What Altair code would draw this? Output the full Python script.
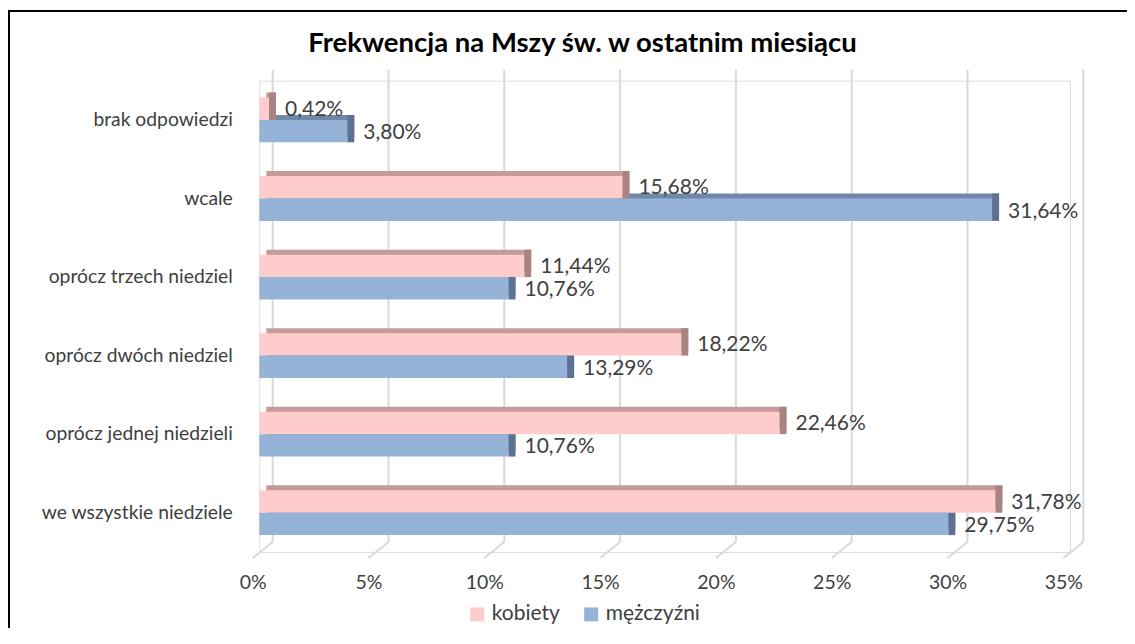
import altair as alt
import pandas as pd

categories = ["brak odpowiedzi", "wcale", "oprócz trzech niedziel",
              "oprócz dwóch niedziel", "oprócz jednej niedzieli", "we wszystkie niedziele"]
series = ["kobiety", "mężczyźni"]
kobiety = [0.42, 15.68, 11.44, 18.22, 22.46, 31.78]
mezczyzni = [3.80, 31.64, 10.76, 13.29, 10.76, 29.75]
ticks = [0, 5, 10, 15, 20, 25, 30, 35]

front_colors = ["#FFCCCC", "#95B3D7"]
top_colors = ["#C49B99", "#6F88A9"]
side_colors = ["#A98381", "#5C7290"]

FONT = "Lato"
W, H = 810.6, 471.33
BAR = 22.4
DX, DY = 7, 5

rows = []
for c, k, m in zip(categories, kobiety, mezczyzni):
    rows.append({"kat": c, "plec": series[0], "v": k})
    rows.append({"kat": c, "plec": series[1], "v": m})
df = pd.DataFrame(rows)
tick_df = pd.DataFrame({"t": ticks})

xscale = alt.Scale(domain=[0, 35], nice=False, zero=True)
yscale = alt.Scale(domain=categories, paddingInner=0, paddingOuter=0)

x_axis = alt.Axis(values=ticks, labelExpr="datum.value + '%'", grid=False, domain=False,
                  ticks=False, labelOffset=-6.6, labelPadding=22, labelFontSize=19.5,
                  labelColor="#404040", labelFont=FONT, labelFlush=False,
                  labelOverlap=False, labelBound=False, title=None)

base = alt.Chart(df)

def sub(i):
    return base.transform_filter(alt.datum.plec == series[i])

# grid (3D-like: vertical back wall + slanted floor part)
grid_v = alt.Chart(tick_df).mark_rule(color="#D9D9D9", strokeWidth=2, xOffset=13.4).encode(
    x=alt.X("t:Q", scale=xscale, axis=x_axis, title=None),
    y=alt.value(-11), y2=alt.value(461.3))
grid_s = alt.Chart(tick_df).mark_rule(color="#D9D9D9", strokeWidth=2, xOffset=13.4, x2Offset=-6.6).encode(
    x=alt.X("t:Q", scale=xscale, axis=x_axis, title=None), x2="t:Q",
    y=alt.value(461.3), y2=alt.value(477.3))

y_enc = alt.Y("kat:N", scale=yscale, sort=categories, title=None,
              axis=alt.Axis(domain=False, ticks=False, labelPadding=27, labelFontSize=19.3,
                            labelColor="#404040", labelFont=FONT, labelLimit=400))
x_enc = alt.X("v:Q", scale=xscale, title=None, axis=x_axis)

offs = [-BAR / 2, BAR / 2]
lab_offs = [-BAR / 2 + 1, BAR / 2 + 2]

layers = [grid_v, grid_s]
# top faces
for i in range(2):
    layers.append(sub(i).mark_bar(color=top_colors[i], size=BAR, yOffset=offs[i] - DY,
                                  xOffset=DX, x2Offset=DX).encode(x=x_enc, y=y_enc))
# side faces
for i in range(2):
    layers.append(sub(i).mark_bar(color=side_colors[i], size=BAR + DY,
                                  yOffset=offs[i] - DY / 2, x2Offset=DX).encode(
        x=x_enc, x2="v:Q", y=y_enc))
# front faces
color_enc = alt.Color("plec:N", scale=alt.Scale(domain=series, range=front_colors),
                      legend=alt.Legend(title=None, orient="none", legendX=207.4, legendY=523,
                                        direction="horizontal", symbolType="square",
                                        symbolSize=196, symbolStrokeWidth=0, labelFontSize=21,
                                        labelFont=FONT, labelColor="#404040", labelOffset=4,
                                        columnPadding=20, padding=0))
for i in range(2):
    layers.append(sub(i).mark_bar(size=BAR, yOffset=offs[i]).encode(
        x=x_enc, y=y_enc, color=color_enc))
# value labels
for i in range(2):
    layers.append(sub(i).transform_calculate(
        lab="replace(format(datum.v, '.2f'), '.', ',') + '%'"
    ).mark_text(align="left", baseline="middle", dx=16, yOffset=lab_offs[i],
                fontSize=21, font=FONT, color="#404040").encode(
        x=x_enc, y=y_enc, text="lab:N"))

title = alt.Chart(pd.DataFrame({"t": ["Frekwencja na Mszy św. w ostatnim miesiącu"]})).mark_text(
    align="center", baseline="alphabetic", fontSize=27.5, fontWeight="bold", font=FONT,
    color="#000000").encode(x=alt.value(323.2), y=alt.value(-29), text="t:N")

border = alt.Chart(pd.DataFrame({"a": [0]})).mark_rect(
    filled=False, stroke="#000000", strokeWidth=2).encode(
    x=alt.value(-250.3), x2=alt.value(1000), y=alt.value(-69.67), y2=alt.value(700))

layers += [title, border]

chart = alt.layer(*layers).properties(
    width=W, height=H,
    autosize=alt.AutoSizeParams(type="none"),
    padding={"left": 251.3, "top": 72.67, "right": 57, "bottom": 76},
).configure_view(stroke=None).configure(background="white")

chart.save("out.html", embed_options={"renderer": "svg", "actions": False})
